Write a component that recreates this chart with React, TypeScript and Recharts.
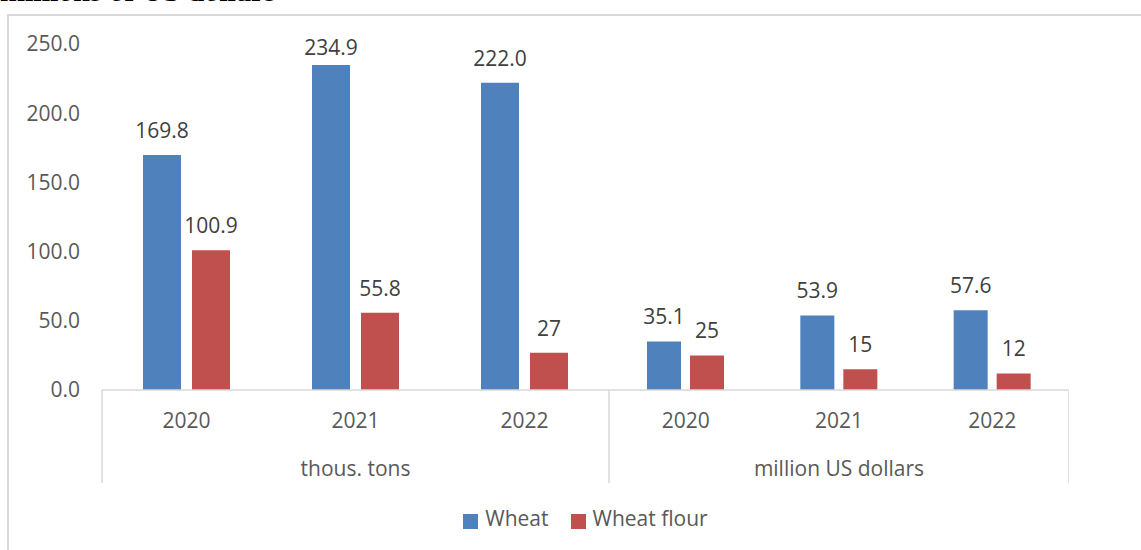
import { BarChart, Bar, XAxis, YAxis, Legend, LabelList } from 'recharts';

const years = ['2020', '2021', '2022'];
const tonsWheat = [169.8, 234.9, 222.0];
const tonsFlour = [100.9, 55.8, 27];
const usdWheat = [35.1, 53.9, 57.6];
const usdFlour = [25, 15, 12];
const yTicks = [0, 50, 100, 150, 200, 250];
const groupNames = ['thous. tons', 'million US dollars'];

const FONT = '"Open Sans", sans-serif';
const FS = 21;
const AXIS_COLOR = '#d9d9d9';
const TEXT_COLOR = '#595959';
const TOP = 44;
const PLOT_H = 346;
const AXIS_Y = TOP + PLOT_H;
const AXIS_H = 93;
const CHART_H = 550;
const Y_W = 102;
const W1 = 609;
const W2 = 460;

const toRows = (wheat: number[], flour: number[]) =>
  years.map((year, i) => ({ year, wheat: wheat[i], flour: flour[i] }));

const tonsRows = toRows(tonsWheat, tonsFlour);
const usdRows = toRows(usdWheat, usdFlour);

// year label, group label under the middle year, and separators at the group edges
const makeTick = (group: string, half: number) => (props: any) => {
  const { x, index, payload } = props;
  return (
    <g>
      <text x={x} y={AXIS_Y + 38} textAnchor="middle" fill={TEXT_COLOR} fontSize={FS} fontFamily={FONT}>
        {payload.value}
      </text>
      {index === 1 && (
        <text x={x} y={AXIS_Y + 86} textAnchor="middle" fill={TEXT_COLOR} fontSize={FS} fontFamily={FONT}>
          {group}
        </text>
      )}
      {index === 0 && (
        <line x1={x - half} x2={x - half} y1={AXIS_Y} y2={AXIS_Y + AXIS_H} stroke={AXIS_COLOR} strokeWidth={1.5} />
      )}
      {index === years.length - 1 && (
        <line x1={x + half} x2={x + half} y1={AXIS_Y} y2={AXIS_Y + AXIS_H} stroke={AXIS_COLOR} strokeWidth={1.5} />
      )}
    </g>
  );
};

// value label above the bar, kept inside the plot like Excel does
const makeLabel = (fmt: (v: number) => string) => (props: any) => {
  const { x, y, width, value } = props;
  const base = Math.max(y - 17, TOP + 11);
  return (
    <text x={x + width / 2} y={base} textAnchor="middle" fill="#404040" fontSize={FS} fontFamily={FONT}>
      {fmt(value)}
    </text>
  );
};

const wheatLabel = makeLabel((v) => v.toFixed(1));
const flourLabel = makeLabel((v) => String(v));

const margin = { top: TOP, right: 0, bottom: CHART_H - AXIS_Y - AXIS_H, left: 0 };

const App = () => {
  return (
    <div
      style={{
        position: 'absolute',
        left: 0,
        top: 0,
        width: 1141,
        height: 550,
        overflow: 'hidden',
        background: '#fff',
        fontFamily: FONT,
      }}
    >
      <div
        style={{
          position: 'absolute',
          left: 0,
          top: -24,
          fontFamily: '"Liberation Serif", serif',
          fontWeight: 'bold',
          fontSize: 30,
          lineHeight: '30px',
          whiteSpace: 'nowrap',
          color: '#000',
        }}
      >
        millions of US dollars
      </div>
      <div
        style={{
          position: 'absolute',
          left: 7,
          top: 14,
          width: 1200,
          height: 600,
          border: `2px solid ${AXIS_COLOR}`,
        }}
      />
      <div style={{ position: 'absolute', left: 0, top: 0 }}>
        <BarChart width={W1} height={CHART_H} data={tonsRows} margin={margin} barCategoryGap={41} barGap={11}>
          <XAxis
            dataKey="year"
            height={AXIS_H}
            interval={0}
            tickLine={false}
            axisLine={{ stroke: AXIS_COLOR, strokeWidth: 1.5 }}
            tick={makeTick(groupNames[0], (W1 - Y_W) / years.length / 2)}
          />
          <YAxis
            width={Y_W}
            domain={[0, 250]}
            ticks={yTicks}
            tickFormatter={(v: number) => v.toFixed(1)}
            axisLine={false}
            tickLine={false}
            tickSize={0}
            tickMargin={22}
            tick={{ fill: TEXT_COLOR, fontSize: FS, fontFamily: FONT }}
          />
          <Legend
            layout="horizontal"
            verticalAlign="middle"
            align="center"
            iconType="square"
            iconSize={15}
            wrapperStyle={{ left: Y_W + 11, width: 967, top: 504 }}
            formatter={(v: string) => (
              <span style={{ color: TEXT_COLOR, fontSize: FS, fontFamily: FONT, paddingLeft: 3, paddingRight: 12 }}>
                {v}
              </span>
            )}
          />
          <Bar dataKey="wheat" name="Wheat" fill="#4F81BD" isAnimationActive={false}>
            <LabelList dataKey="wheat" content={wheatLabel} />
          </Bar>
          <Bar dataKey="flour" name="Wheat flour" fill="#C0504D" isAnimationActive={false}>
            <LabelList dataKey="flour" content={flourLabel} />
          </Bar>
        </BarChart>
      </div>
      <div style={{ position: 'absolute', left: W1, top: 0 }}>
        <BarChart width={W2} height={CHART_H} data={usdRows} margin={margin} barCategoryGap={38} barGap={9}>
          <XAxis
            dataKey="year"
            height={AXIS_H}
            interval={0}
            tickLine={false}
            axisLine={{ stroke: AXIS_COLOR, strokeWidth: 1.5 }}
            tick={makeTick(groupNames[1], W2 / years.length / 2)}
          />
          <YAxis hide domain={[0, 250]} ticks={yTicks} />
          <Bar dataKey="wheat" name="Wheat" fill="#4F81BD" isAnimationActive={false}>
            <LabelList dataKey="wheat" content={wheatLabel} />
          </Bar>
          <Bar dataKey="flour" name="Wheat flour" fill="#C0504D" isAnimationActive={false}>
            <LabelList dataKey="flour" content={flourLabel} />
          </Bar>
        </BarChart>
      </div>
    </div>
  );
};

export default App;
